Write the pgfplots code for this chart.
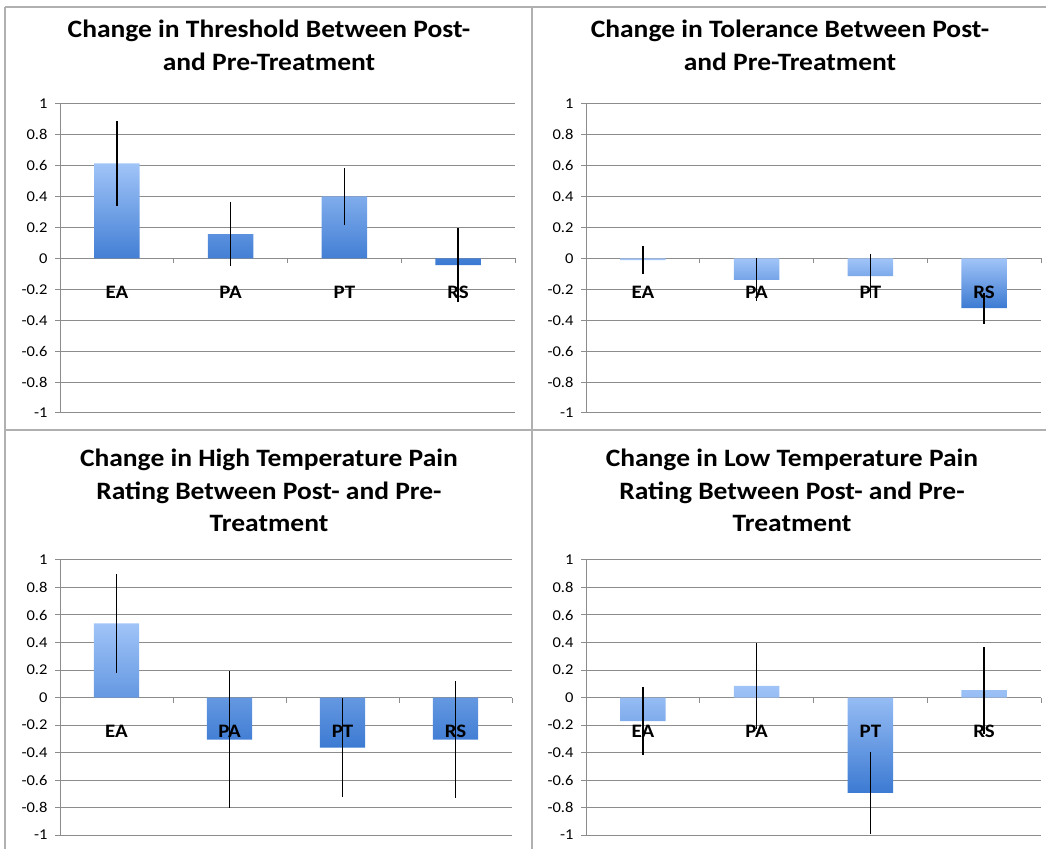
\documentclass[border=0pt]{standalone}
\usepackage{pgfplots}
\pgfplotsset{compat=1.18}
\usepackage{fontspec}
\setmainfont{Carlito}[FakeStretch=1.1]
\definecolor{gridc}{HTML}{8C8C8C}
\definecolor{barlight}{HTML}{A0C4F8}
\definecolor{bardark}{HTML}{3C7AD2}
\definecolor{framec}{HTML}{B0B0B0}

\pgfplotsset{
  panel/.style={
    scale only axis, anchor=south west,
    xmin=-0.5, xmax=3.5, ymin=-1, ymax=1,
    axis x line=middle, axis y line=left,
    axis line style={-, draw=gridc, line width=1pt},
    hide obscured x ticks=false, hide obscured y ticks=false,
    ytick={-1,-0.8,-0.6,-0.4,-0.2,0,0.2,0.4,0.6,0.8,1},
    yticklabels={-1,-0.8,-0.6,-0.4,-0.2,0,0.2,0.4,0.6,0.8,1},
    ymajorgrids, grid style={draw=gridc, line width=1pt},
    xtick={0.5,1.5,2.5,3.5}, xticklabels={},
    y tick label style={font=\fontsize{15}{15}\selectfont, xshift=-4pt},
    tick align=outside,
    major tick length=5pt,
    y tick style={draw=gridc, line width=1pt},
    x tick style={draw=gridc, line width=1pt},
  },
  bars/.style={
    ybar, bar width=0.4, draw=none, top color=barlight, bottom color=bardark,
  },
  cats/.style={
    draw=none, mark=none, nodes near coords, point meta=explicit symbolic,
    every node near coord/.append style={font=\fontsize{19}{19}\selectfont\bfseries, text=black, anchor=center, yshift=-34pt},
  },
  errs/.style={
    draw=none, mark=none,
    error bars/.cd, y dir=both, y explicit, error mark=none,
    error bar style={black, line width=1.3pt},
  },
}

\begin{document}
\begin{tikzpicture}[x=1pt,y=1pt]
\path[use as bounding box] (0,0) rectangle (1046,849);
% frames
\draw[framec, line width=1.2pt] (5,842) -- (1046,842);
\draw[framec, line width=1.2pt] (5,842) -- (5,0);
\draw[framec, line width=1.2pt] (532,842) -- (532,0);
\draw[framec, line width=1.2pt] (5,419) -- (1046,419);

% titles
\begin{scope}[every node/.style={font=\fontsize{25}{25}\selectfont\bfseries, anchor=base, inner sep=0pt}]
\node at (269,811) {Change in Threshold Between Post-};
\node at (269,778) {and Pre-Treatment};
\node at (790,811) {Change in Tolerance Between Post-};
\node at (790,778) {and Pre-Treatment};
\node at (269,382) {Change in High Temperature Pain};
\node at (269,349) {Rating Between Post- and Pre-};
\node at (269,317) {Treatment};
\node at (792,382) {Change in Low Temperature Pain};
\node at (792,349) {Rating Between Post- and Pre-};
\node at (792,317) {Treatment};
\end{scope}

% Panel 1: Threshold
\begin{axis}[panel, at={(60pt,436pt)}, width=455pt, height=309pt]
\addplot[bars] coordinates {(0,0.615) (1,0.157) (2,0.402) (3,-0.043)};
\addplot[cats] coordinates {(0,0) [EA] (1,0) [PA] (2,0) [PT] (3,0) [RS]};
\addplot[errs] coordinates {
  (0,0.615) +- (0,0.275)
  (1,0.157) +- (0,0.207)
  (2,0.402) +- (0,0.184)
  (3,-0.043) +- (0,0.240)
};
\end{axis}

% Panel 2: Tolerance
\begin{axis}[panel, at={(586pt,436pt)}, width=455pt, height=309pt]
\addplot[bars] coordinates {(0,-0.010) (1,-0.138) (2,-0.114) (3,-0.321)};
\addplot[cats] coordinates {(0,0) [EA] (1,0) [PA] (2,0) [PT] (3,0) [RS]};
\addplot[errs] coordinates {
  (0,-0.010) +- (0,0.090)
  (1,-0.138) +- (0,0.140)
  (2,-0.114) +- (0,0.140)
  (3,-0.321) +- (0,0.100)
};
\end{axis}

% Panel 3: High temperature
\begin{axis}[panel, at={(60pt,14pt)}, width=452pt, height=275pt]
\addplot[bars] coordinates {(0,0.540) (1,-0.306) (2,-0.364) (3,-0.306)};
\addplot[cats] coordinates {(0,0) [EA] (1,0) [PA] (2,0) [PT] (3,0) [RS]};
\addplot[errs] coordinates {
  (0,0.540) +- (0,0.360)
  (1,-0.306) +- (0,0.500)
  (2,-0.364) +- (0,0.360)
  (3,-0.306) +- (0,0.425)
};
\end{axis}

% Panel 4: Low temperature
\begin{axis}[panel, at={(586pt,14pt)}, width=455pt, height=275pt]
\addplot[bars] coordinates {(0,-0.172) (1,0.085) (2,-0.694) (3,0.053)};
\addplot[cats] coordinates {(0,0) [EA] (1,0) [PA] (2,0) [PT] (3,0) [RS]};
\addplot[errs] coordinates {
  (0,-0.172) +- (0,0.245)
  (1,0.085) +- (0,0.315)
  (2,-0.694) +- (0,0.300)
  (3,0.053) +- (0,0.315)
};
\end{axis}
\end{tikzpicture}
\end{document}
